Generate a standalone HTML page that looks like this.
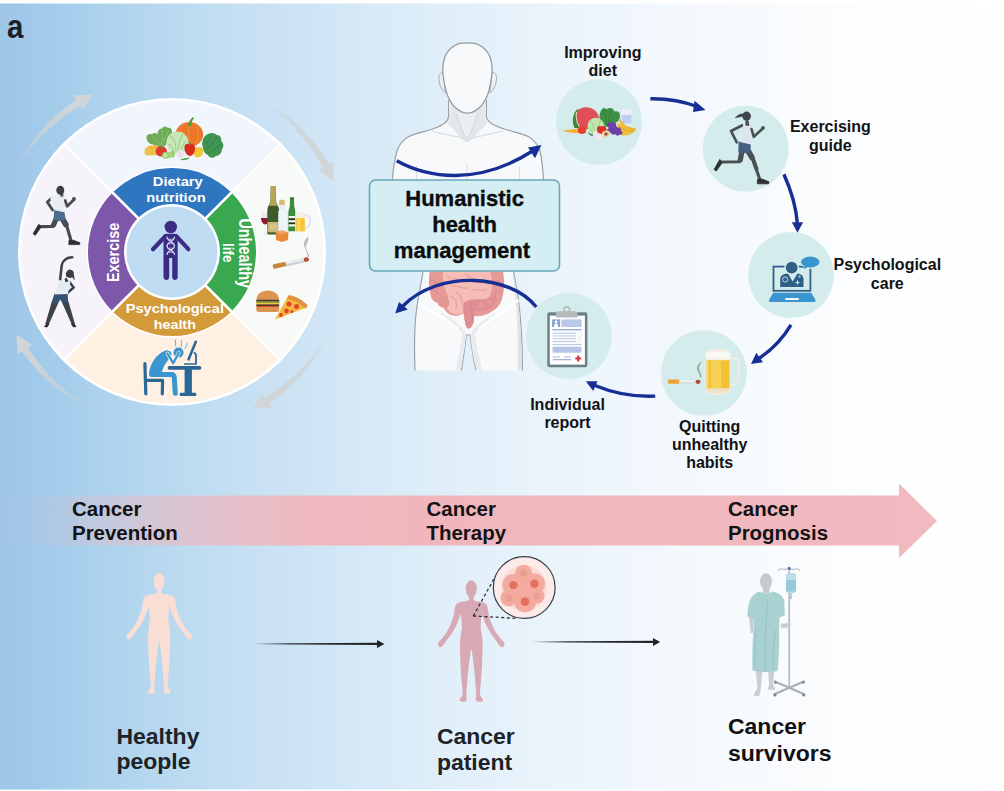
<!DOCTYPE html>
<html>
<head>
<meta charset="utf-8">
<title>Humanistic health management</title>
<style>
html,body{margin:0;padding:0;background:#fff;}
body{width:1004px;height:791px;overflow:hidden;font-family:"Liberation Sans",sans-serif;}
svg{display:block;position:absolute;left:0;top:0;}
text{font-family:"Liberation Sans",sans-serif;font-weight:bold;}
</style>
</head>
<body>
<svg width="1004" height="791" viewBox="0 0 1004 791">
<defs>
  <linearGradient id="bg" x1="0" y1="0" x2="1" y2="0">
    <stop offset="0" stop-color="#9fc5e7"/>
    <stop offset="0.05" stop-color="#a3cbea"/>
    <stop offset="0.10" stop-color="#acd2ed"/>
    <stop offset="0.18" stop-color="#bbdaf0"/>
    <stop offset="0.25" stop-color="#c7e0f3"/>
    <stop offset="0.40" stop-color="#dbecf8"/>
    <stop offset="0.55" stop-color="#ebf4fb"/>
    <stop offset="0.70" stop-color="#f5f9fd"/>
    <stop offset="0.85" stop-color="#fcfdfe"/>
    <stop offset="1" stop-color="#ffffff"/>
  </linearGradient>
  <linearGradient id="bar" gradientUnits="userSpaceOnUse" x1="0" y1="0" x2="940" y2="0">
    <stop offset="0" stop-color="#f0b6bc" stop-opacity="0"/>
    <stop offset="0.05" stop-color="#f0b6bc" stop-opacity="0.1"/>
    <stop offset="0.16" stop-color="#f0b6bc" stop-opacity="0.5"/>
    <stop offset="0.33" stop-color="#f0b6bc" stop-opacity="0.95"/>
    <stop offset="0.45" stop-color="#f0b6bc" stop-opacity="1"/>
    <stop offset="1" stop-color="#f1bac0" stop-opacity="1"/>
  </linearGradient>
  <linearGradient id="fadeL" gradientUnits="userSpaceOnUse" x1="252" y1="0" x2="384" y2="0">
    <stop offset="0" stop-color="#1e2428" stop-opacity="0"/>
    <stop offset="0.12" stop-color="#1e2428" stop-opacity="0.5"/>
    <stop offset="0.28" stop-color="#1e2428" stop-opacity="0.95"/>
    <stop offset="1" stop-color="#1e2428" stop-opacity="1"/>
  </linearGradient>
  <linearGradient id="fadeL2" gradientUnits="userSpaceOnUse" x1="531" y1="0" x2="660" y2="0">
    <stop offset="0" stop-color="#1e2428" stop-opacity="0"/>
    <stop offset="0.12" stop-color="#1e2428" stop-opacity="0.5"/>
    <stop offset="0.28" stop-color="#1e2428" stop-opacity="0.95"/>
    <stop offset="1" stop-color="#1e2428" stop-opacity="1"/>
  </linearGradient>
  <clipPath id="wheelclip"><circle cx="172" cy="252" r="151.300"/></clipPath>
</defs>

<!-- background -->
<rect x="0" y="3.5" width="1004" height="786" fill="url(#bg)"/>

<!-- panel label -->
<text transform="translate(7 38.200) scale(0.920 1.020)" x="0" y="0" font-size="32" fill="#1c2026">a</text>

<!-- ===== GRAY WHEEL ARROWS ===== -->
<g id="garrows">
  <linearGradient id="ga0" gradientUnits="userSpaceOnUse" x1="18.9" y1="164.7" x2="92.8" y2="94.5"><stop offset="0" stop-color="#ccd2d5" stop-opacity="0.05"/><stop offset="0.3" stop-color="#ccd2d5" stop-opacity="0.6"/><stop offset="0.65" stop-color="#cfd4d6" stop-opacity="0.95"/><stop offset="1" stop-color="#d2d6d7" stop-opacity="1"/></linearGradient>
  <path d="M17.8 164.0 L19.5 160.8 L21.3 157.7 L23.2 154.6 L25.1 151.5 L27.1 148.5 L29.2 145.5 L31.3 142.5 L33.5 139.6 L35.8 136.8 L38.1 133.9 L40.4 131.2 L42.9 128.4 L45.3 125.8 L47.9 123.1 L50.5 120.5 L53.1 118.0 L55.8 115.5 L58.6 113.1 L61.4 110.8 L64.2 108.5 L67.1 106.2 L70.0 104.0 L73.0 101.9 L76.1 99.8 L73.3 95.5 L92.8 94.5 L82.7 110.3 L79.9 105.9 L76.9 107.7 L73.9 109.6 L71.0 111.6 L68.1 113.6 L65.2 115.7 L62.4 117.8 L59.6 120.0 L56.9 122.2 L54.2 124.5 L51.5 126.9 L48.9 129.3 L46.4 131.8 L43.9 134.3 L41.4 136.9 L39.0 139.5 L36.7 142.2 L34.4 144.9 L32.2 147.7 L30.0 150.5 L27.9 153.4 L25.8 156.3 L23.8 159.2 L21.8 162.2 L20.0 165.3 Z" fill="url(#ga0)"/>
  <linearGradient id="ga1" gradientUnits="userSpaceOnUse" x1="262.8" y1="100.9" x2="333.4" y2="181.1"><stop offset="0" stop-color="#ccd2d5" stop-opacity="0.05"/><stop offset="0.3" stop-color="#ccd2d5" stop-opacity="0.6"/><stop offset="0.65" stop-color="#cfd4d6" stop-opacity="0.95"/><stop offset="1" stop-color="#d2d6d7" stop-opacity="1"/></linearGradient>
  <path d="M263.5 99.8 L266.8 101.7 L270.1 103.7 L273.3 105.8 L276.5 108.0 L279.7 110.2 L282.8 112.5 L285.8 114.8 L288.8 117.3 L291.8 119.7 L294.7 122.3 L297.5 124.9 L300.3 127.6 L303.1 130.3 L305.7 133.1 L308.4 136.0 L310.9 138.9 L313.4 141.9 L315.8 144.9 L318.2 148.0 L320.5 151.1 L322.7 154.3 L324.9 157.6 L327.0 160.8 L329.0 164.2 L333.5 161.7 L333.4 181.1 L318.2 170.2 L322.7 167.7 L320.9 164.4 L319.1 161.1 L317.2 157.9 L315.2 154.7 L313.1 151.6 L311.0 148.5 L308.8 145.5 L306.5 142.5 L304.2 139.5 L301.8 136.6 L299.4 133.8 L296.8 131.0 L294.3 128.2 L291.6 125.5 L288.9 122.9 L286.2 120.3 L283.3 117.8 L280.5 115.4 L277.5 113.0 L274.6 110.6 L271.5 108.4 L268.5 106.2 L265.3 104.0 L262.2 102.0 Z" fill="url(#ga1)"/>
  <linearGradient id="ga2" gradientUnits="userSpaceOnUse" x1="326.0" y1="337.7" x2="252.6" y2="408.8"><stop offset="0" stop-color="#ccd2d5" stop-opacity="0.05"/><stop offset="0.3" stop-color="#ccd2d5" stop-opacity="0.6"/><stop offset="0.65" stop-color="#cfd4d6" stop-opacity="0.95"/><stop offset="1" stop-color="#d2d6d7" stop-opacity="1"/></linearGradient>
  <path d="M327.1 338.4 L325.4 341.6 L323.6 344.7 L321.8 347.9 L319.9 351.0 L317.9 354.0 L315.9 357.1 L313.8 360.1 L311.6 363.0 L309.4 365.9 L307.1 368.8 L304.7 371.6 L302.3 374.3 L299.9 377.0 L297.3 379.7 L294.8 382.3 L292.1 384.9 L289.4 387.4 L286.7 389.8 L283.9 392.2 L281.1 394.6 L278.2 396.8 L275.3 399.1 L272.3 401.2 L269.3 403.3 L272.0 407.7 L252.6 408.8 L262.6 393.0 L265.4 397.3 L268.4 395.4 L271.3 393.5 L274.3 391.5 L277.2 389.5 L280.0 387.4 L282.8 385.2 L285.6 383.0 L288.3 380.7 L291.0 378.3 L293.7 375.9 L296.2 373.5 L298.8 371.0 L301.3 368.4 L303.7 365.8 L306.1 363.2 L308.4 360.5 L310.7 357.7 L312.9 354.9 L315.0 352.0 L317.1 349.1 L319.2 346.2 L321.2 343.2 L323.1 340.2 L324.9 337.1 Z" fill="url(#ga2)"/>
  <linearGradient id="ga3" gradientUnits="userSpaceOnUse" x1="88.7" y1="407.4" x2="16.3" y2="334.8"><stop offset="0" stop-color="#ccd2d5" stop-opacity="0.05"/><stop offset="0.3" stop-color="#ccd2d5" stop-opacity="0.6"/><stop offset="0.65" stop-color="#cfd4d6" stop-opacity="0.95"/><stop offset="1" stop-color="#d2d6d7" stop-opacity="1"/></linearGradient>
  <path d="M88.1 408.5 L84.8 406.8 L81.6 405.1 L78.5 403.3 L75.3 401.4 L72.2 399.5 L69.1 397.4 L66.1 395.4 L63.1 393.2 L60.2 391.1 L57.3 388.8 L54.4 386.5 L51.6 384.1 L48.9 381.7 L46.2 379.2 L43.5 376.6 L40.9 374.0 L38.3 371.4 L35.8 368.7 L33.4 365.9 L31.0 363.1 L28.7 360.2 L26.4 357.3 L24.2 354.4 L22.0 351.4 L17.7 354.2 L16.3 334.8 L32.3 344.5 L28.0 347.4 L29.9 350.4 L31.9 353.3 L33.9 356.3 L36.0 359.1 L38.2 362.0 L40.4 364.8 L42.7 367.5 L45.0 370.2 L47.4 372.9 L49.9 375.5 L52.3 378.0 L54.9 380.5 L57.5 383.0 L60.2 385.4 L62.9 387.7 L65.6 390.0 L68.4 392.3 L71.3 394.4 L74.2 396.6 L77.1 398.6 L80.1 400.6 L83.1 402.6 L86.2 404.4 L89.3 406.3 Z" fill="url(#ga3)"/>
</g>

<!-- ===== WHEEL ===== -->
<g id="wheel">
  <circle cx="172" cy="252" r="154" fill="#ffffff"/>
  <g clip-path="url(#wheelclip)">
    <!-- quadrants -->
    <path d="M172 252 L18 98 L326 98 Z" fill="#f0f6fc"/>
    <path d="M172 252 L326 98 L326 406 Z" fill="#f7faf6"/>
    <path d="M172 252 L326 406 L18 406 Z" fill="#fef1e3"/>
    <path d="M172 252 L18 406 L18 98 Z" fill="#f7f3fa"/>
    <path d="M18 98 L326 406 M326 98 L18 406" stroke="#ffffff" stroke-width="2.5"/>
  </g>
  <!-- ring -->
  <circle cx="172" cy="252" r="85.5" fill="#ffffff"/>
  <path d="M172 252 L112.6 192.6 A84 84 0 0 1 231.4 192.6 Z" fill="#2f76c1"/>
  <path d="M172 252 L231.4 192.6 A84 84 0 0 1 231.4 311.4 Z" fill="#3aa84f"/>
  <path d="M172 252 L231.4 311.4 A84 84 0 0 1 112.6 311.4 Z" fill="#d39a3a"/>
  <path d="M172 252 L112.6 311.4 A84 84 0 0 1 112.6 192.6 Z" fill="#7d57a9"/>
  <path d="M110 190 L234 314 M234 190 L110 314" stroke="#ffffff" stroke-width="2.6"/>
  <circle cx="172" cy="252" r="48" fill="#ffffff"/>
  <circle cx="172" cy="252" r="45.500" fill="#bfdcf3"/>
  <!-- ring labels -->
  <g fill="#fff" text-anchor="middle" font-size="13.400">
    <text x="177.800" y="185.700" textLength="50" lengthAdjust="spacingAndGlyphs">Dietary</text>
    <text x="175.900" y="202.200" textLength="59.400" lengthAdjust="spacingAndGlyphs">nutrition</text>
    <text x="174.800" y="313.200" textLength="98.300" lengthAdjust="spacingAndGlyphs">Psychological</text>
    <text x="174.800" y="329.100" textLength="42.200" lengthAdjust="spacingAndGlyphs">health</text>
  </g>
  <text transform="translate(118.900,252.400) rotate(-90) scale(1,1.090)" font-size="14.400" fill="#fff" text-anchor="middle">Exercise</text>
  <text transform="translate(239.300,253.200) rotate(90) scale(1,1.280)" font-size="14.400" fill="#fff" text-anchor="middle">Unhealthy</text>
  <text transform="translate(223,252.700) rotate(90) scale(1,1.100)" font-size="13.600" fill="#fff" text-anchor="middle">life</text>
</g>


<!-- ===== WHEEL ICONS ===== -->
<g id="veg">
  <!-- parsley -->
  <path d="M146.500 138 C146 135 149 133 152 134.500 C153 132.500 156 132.500 157.500 134.500 C157.500 131 159.500 128 162 128.500 C163 126 166.500 125.800 167.500 128 C170 127 172.500 129 172 132 C173 135 170.500 138 168.500 140 L165 146 L158 147 L153 144.500 C149.500 144.500 146.800 141.500 146.500 138 Z" fill="#6dab58"/>
  <path d="M152 137 C155 139 158 142 160 145 M162.500 130 C162.500 135 162 140 161 145 M168.500 131 C166.500 135 164 140 162 145" stroke="#8fc878" stroke-width="0.800" fill="none"/>
  <!-- pumpkin -->
  <ellipse cx="189.300" cy="134.500" rx="13.800" ry="12.400" fill="#ec7726"/>
  <path d="M184 123 C180 130 180 140 184 146 M189.500 122.500 C188 130 188 140 189.500 146.800 M195 123 C199 130 199 140 195 146" stroke="#f0904a" stroke-width="1" fill="none"/>
  <path d="M188 126 C188.500 122 190.500 119 192.800 117 L194 118.200 C192 120.500 191 123 191 126.300 Z" fill="#4f9a3c"/>
  <!-- lettuce right -->
  <path d="M203 148 C201 142 203 136 208 134 C211 132 215 133 217 135 C220 135 222 138 221 141 C224 143 224 147 222 149 C222 153 219 156 216 156 C213 159 209 158 208 155 C205 154 203 151 203 148 Z" fill="#3f9652"/>
  <path d="M206 150 C210 146 214 141 217 137 M208 154 C212 151 217 147 221 144 M205 145 C208 142 210 138 211 135" stroke="#2f7d42" stroke-width="0.800" fill="none"/>
  <!-- corn/yellow -->
  <path d="M144.500 151 C145 148 147 146 150 146.500 L159 148 L160 155 L147 155.500 C145 155 144 153 144.500 151 Z" fill="#f0c04e"/>
  <path d="M148 146 L158 145 L158.500 148.500 L149 149 Z" fill="#f4b23c"/>
  <!-- cabbage -->
  <circle cx="177.300" cy="142.500" r="11" fill="#c9e8b8"/>
  <path d="M170 136 C174 138 176 143 176 151 M183 134 C180 139 178 145 178 152 M168 144 C171 145 173 148 174 152 M186 141 C183 144 181 148 180.500 152" stroke="#9fd08c" stroke-width="1.100" fill="none"/>
  <!-- tomato -->
  <ellipse cx="161.300" cy="151.200" rx="5.700" ry="5.200" fill="#e03a2a"/>
  <path d="M158.500 146.500 L161.300 147.800 L164 146.300 L162.500 148.500 L160 148.500 Z" fill="#4a9a3c"/>
  <!-- yellow pepper -->
  <path d="M193 150 C193 147 196 146 198 147.500 C200 146 203 147.500 203 150.500 C203.500 154 201 157.500 198 157.500 C195 157.500 192.500 154 193 150 Z" fill="#f3c538"/>
  <!-- red pepper -->
  <path d="M184.500 147 C184.500 144 187.500 143 189.500 144.500 C191.500 143 195 144.500 195 147.500 C195.500 151.500 193 156 190 156 C187 156 184 151.500 184.500 147 Z" fill="#d72b22"/>
  <path d="M189 144.500 L189.800 142 L191 142.300 L190.300 144.700 Z" fill="#4a9a3c"/>
  <!-- cucumbers -->
  <ellipse cx="172.500" cy="154.300" rx="2.400" ry="3.300" fill="#9ccf74"/>
  <ellipse cx="169.200" cy="154.800" rx="2.600" ry="3.400" fill="#a9d883"/>
  <ellipse cx="165.400" cy="155.300" rx="3.200" ry="3.500" fill="#8cc862"/>
  <ellipse cx="165.400" cy="155.300" rx="2.200" ry="2.500" fill="#c4e8a0"/>
  <!-- garlic -->
  <path d="M180.500 148.500 C182.500 151 185 152.500 184.500 155.500 C184 158 177 158.500 176.500 155.500 C176 152.500 179 151 180.500 148.500 Z" fill="#f0e4f0"/>
  <path d="M180.500 150 C180 153 180 155 180.500 157.500" stroke="#d9c6df" stroke-width="0.700" fill="none"/>
  <!-- pea pod -->
  <path d="M180 159.500 C183 158 187 158 190 157.500 C188 160 183 161 180 159.500 Z" fill="#5aa546"/>
</g>

<g id="drinks">
  <!-- wine glass -->
  <path d="M261.300 212.200 L268.800 212.200 C269.500 218 268.500 223 265.600 224.300 L265.600 233 L268.300 234 L268.300 234.800 L262 234.800 L262 234 L264.700 233 L264.700 224.300 C261.500 223 260.500 218 261.300 212.200 Z" fill="#e7ebf0" opacity="0.950"/>
  <path d="M261 218 L269.100 218 C269 221.500 267.800 223.800 265.200 224.500 C262.500 223.800 261.100 221.500 261 218 Z" fill="#8d1a30"/>
  <!-- champagne -->
  <path d="M270.700 186 L275.500 186 L275.800 200 C276 204 279.300 206.500 279.300 211 L279.300 233 C279.300 234 278.600 234.600 277.500 234.600 L269 234.600 C268 234.600 267.300 234 267.300 233 L267.300 211 C267.300 206.500 270.300 204 270.500 200 Z" fill="#3d5c2a"/>
  <path d="M270.800 186 L275.400 186 L275.700 200 C275.800 202.500 277 204.300 278 205.800 L268.600 205.800 C269.600 204.300 270.500 202.500 270.600 200 Z" fill="#b9a55a"/>
  <rect x="267.800" y="222" width="11" height="10.300" fill="#c9b878"/>
  <rect x="269.800" y="224.500" width="7" height="4.600" fill="#dcc48a"/>
  <!-- clear bottle -->
  <rect x="279.200" y="199.800" width="5.600" height="5.600" rx="1.500" fill="#d9ba6c"/>
  <path d="M280.400 205 L283.800 205 L283.800 209 C286.300 210 287.600 211.500 287.600 213.500 L287.600 231 L278.500 231 L278.500 213.500 C278.500 211.500 278.500 210 280.400 209 Z" fill="#eef3f6" stroke="#dbe3e8" stroke-width="0.600"/>
  <!-- whiskey glass -->
  <path d="M275.500 232.500 L282 230.500 L288.500 232.500 L288 240 L282 242 L276 240 Z" fill="#e9893a"/>
  <path d="M275.500 232.500 L282 234.500 L288.500 232.500 L282 230.500 Z" fill="#f2a25a"/>
  <!-- green beer bottle -->
  <path d="M290 197.600 L294 197.600 L294.200 205 C294.300 208 295.400 210 295.400 213 L295.400 231.300 L288.300 231.300 L288.300 213 C288.300 210 289.700 208 289.800 205 Z" fill="#3a8d3a"/>
  <rect x="288.600" y="216" width="6.500" height="10.500" fill="#f2f4ee"/>
  <rect x="288.600" y="218.300" width="6.500" height="1.800" fill="#20301f"/>
  <rect x="288.600" y="222.400" width="6.500" height="1.800" fill="#20301f"/>
  <rect x="290" y="197.600" width="4" height="1.600" fill="#2c6e2c"/>
  <!-- beer mug -->
  <path d="M304.800 215.500 C309.500 215 310.500 218 310 222 C309.500 226 308 228.500 304.800 228.500" fill="none" stroke="#e4deee" stroke-width="1.800"/>
  <rect x="295.500" y="212.600" width="9.800" height="19.300" rx="1" fill="#f3f0ea"/>
  <rect x="296" y="218" width="8.800" height="13.200" fill="#f5c73a"/>
  <rect x="297.500" y="218" width="2.500" height="13.200" fill="#f9d966"/>
</g>

<g id="cig">
  <path d="M309 257 C309.500 253 305 250 306 246 C307 242 309.500 240 308 236.500 C306 239 303.500 241 304 245 C304.500 249 307.500 252 307.500 256.500 Z" fill="#b8bdbb"/>
  <g transform="rotate(-12.200 273 266.700)">
    <rect x="273" y="264.500" width="13.300" height="4.500" rx="1" fill="#c9853c"/>
    <rect x="286.300" y="264.500" width="18.500" height="4.500" fill="#e9ecee"/>
    <rect x="286.300" y="267.200" width="18.500" height="1.800" fill="#c9cdd2"/>
    <rect x="304.500" y="264.500" width="5.200" height="4.500" rx="2" fill="#b5563c"/>
  </g>
</g>

<g id="burger">
  <path d="M256.500 299.800 C256.500 294 261.500 290.500 267.700 290.500 C274 290.500 279 294 279 299.800 Z" fill="#dd9450"/>
  <rect x="256.300" y="299.600" width="22.900" height="2.200" fill="#5b3a24"/>
  <rect x="256" y="301.600" width="23.500" height="1.500" fill="#7daa3c"/>
  <rect x="256.300" y="302.900" width="22.900" height="1.600" fill="#f2c23c"/>
  <rect x="256.300" y="304.300" width="22.900" height="1.900" fill="#5b3a24"/>
  <rect x="256.600" y="306" width="22.300" height="1.200" fill="#d8452c"/>
  <path d="M256.300 307 L279.200 307 L279.200 309.500 C279.200 311.200 278 312 276.500 312 L259 312 C257.500 312 256.300 311.200 256.300 309.500 Z" fill="#dd9450"/>
</g>
<g id="pizza">
  <path d="M275 319.500 L287.500 297.200 L306.500 307.600 Z" fill="#f6b93c"/>
  <path d="M286.800 298.400 L288.800 295 C295 296 303 300 307.800 305.500 L305.800 308.800 C301 304 293.500 300 286.800 298.400 Z" fill="#e0923f"/>
  <circle cx="289" cy="304" r="2.500" fill="#e0452f"/>
  <circle cx="296.500" cy="306.500" r="2.500" fill="#e0452f"/>
  <circle cx="286.500" cy="311" r="2.400" fill="#e0452f"/>
  <circle cx="281" cy="315" r="2" fill="#e0452f"/>
  <circle cx="292" cy="311.500" r="1.500" fill="#e0452f"/>
</g>

<g id="stress">
  <!-- chair -->
  <path d="M144.900 363.500 L145.800 393.800" stroke="#2b6796" stroke-width="3.200" stroke-linecap="round" fill="none"/>
  <path d="M145.600 380.300 L162.600 380.300 L162.300 393.800" stroke="#2b6796" stroke-width="3.200" stroke-linecap="round" stroke-linejoin="round" fill="none"/>
  <!-- desk -->
  <path d="M169.500 367.800 L199.500 367.800" stroke="#2b6796" stroke-width="3.700" stroke-linecap="round"/>
  <rect x="184.600" y="368" width="7.300" height="25.500" fill="#2b6796"/>
  <rect x="179.700" y="392.800" width="16.600" height="3.200" rx="1.200" fill="#2b6796"/>
  <!-- monitor -->
  <path d="M195.800 341.800 L188.600 359.300" stroke="#2b6796" stroke-width="2.600" stroke-linecap="round"/>
  <path d="M193.800 352.500 C195.500 353 196 354 196 356 L196 363.800" stroke="#2b6796" stroke-width="1.800" fill="none"/>
  <path d="M184 364 L196.800 364" stroke="#2b6796" stroke-width="1.500"/>
  <!-- person -->
  <path d="M171 374.600 L151.500 374.600 C152 366 157 356.500 166.500 352.800" stroke="#3a96d0" stroke-width="5" fill="none" stroke-linecap="round" stroke-linejoin="round"/>
  <path d="M152 377 C150 368 154 356 166 351 C170 350 172 352 171.500 355 L164 366 L160 377 Z" fill="#3a96d0"/>
  <path d="M155 374.500 L171.500 374.500 C173.500 374.500 174.200 376 174.300 378 L175.300 393.300" stroke="#3a96d0" stroke-width="5" fill="none" stroke-linecap="round" stroke-linejoin="round"/>
  <circle cx="178.500" cy="352.600" r="5" fill="#3a96d0"/>
  <path d="M167.500 353.500 L173.200 363.200 L178.800 352.800" stroke="#fdf0e2" stroke-width="3.600" fill="none" stroke-linecap="round" stroke-linejoin="round"/>
  <path d="M167.500 353.500 L173.200 363.200 L178.800 352.800" stroke="#3a96d0" stroke-width="2.300" fill="none" stroke-linecap="round" stroke-linejoin="round"/>
  <!-- squiggles -->
  <path d="M175.500 340 C174.500 341.500 176.500 342.500 175.500 344 C175 345 176 345.500 175.800 346.200 M181.500 340.500 C180.500 342 182.500 343 181.500 344.500 C181 345.500 181.500 346 181.200 346.800 M187.500 343 C186 344.200 187.500 345.500 186 346.800 C185.300 347.500 185.500 348 185 348.500" stroke="#4aa0d5" stroke-width="0.900" fill="none" stroke-linecap="round"/>
</g>

<g id="runnerman">
  <!-- back leg -->
  <path d="M57 217 L52.500 226.500 L39.500 226.600" stroke="#464b50" stroke-width="3.200" fill="none" stroke-linecap="round" stroke-linejoin="round"/>
  <path d="M57.500 216 L53.500 225" stroke="#464b50" stroke-width="5.200" fill="none" stroke-linecap="round"/>
  <path d="M38.800 224.300 L40.800 227.300 L35.200 235.300 L33.200 233.800 Z" fill="#2b2e33" stroke="#2b2e33" stroke-width="1" stroke-linejoin="round"/>
  <!-- front leg -->
  <path d="M61.500 217 L66.700 225.600 L71 240.600" stroke="#464b50" stroke-width="3.200" fill="none" stroke-linecap="round" stroke-linejoin="round"/>
  <path d="M61 216.500 L65.800 224.500" stroke="#464b50" stroke-width="5.600" fill="none" stroke-linecap="round"/>
  <path d="M69 240.500 L73.500 240.300 L80 242.800 L79.500 244.600 L68.800 244.600 Z" fill="#2b2e33" stroke="#2b2e33" stroke-width="0.800" stroke-linejoin="round"/>
  <!-- back arm -->
  <path d="M51.500 198.200 L47.300 202 L52.600 210" stroke="#464b50" stroke-width="2.800" fill="none" stroke-linecap="round" stroke-linejoin="round"/>
  <!-- shorts -->
  <path d="M54.300 209.500 L64.300 211.500 L65.600 219 C62 221.500 57 221.500 53.500 219.300 Z" fill="#4d6d8c"/>
  <!-- shirt -->
  <path d="M50.300 197.500 C52 195.500 56 195 58.500 195.800 L62.500 196 C64.500 196 66.300 197 66.300 199 L64.300 212.300 L54.600 210.200 L53.800 201.800 L50.500 200.300 Z" fill="#e9eef4"/>
  <!-- front arm -->
  <path d="M65.200 200.500 L67.200 206.300 L73.800 199.800" stroke="#464b50" stroke-width="2.700" fill="none" stroke-linecap="round" stroke-linejoin="round"/>
  <circle cx="74" cy="199" r="1.900" fill="#464b50"/>
  <!-- head -->
  <path d="M60.500 196.800 L60.300 192 L63.300 192.500 L63.300 196.500 Z" fill="#464b50"/>
  <ellipse cx="60.300" cy="190.300" rx="4" ry="4.500" fill="#3c4146"/>
</g>

<g id="stretchwoman">
  <!-- legs -->
  <path d="M52 301 L58.500 302.500 L48.500 325 L45.300 324 Z" fill="#3d444b"/>
  <path d="M62 302.500 L68.300 301 L75 324 L72 325 Z" fill="#3d444b"/>
  <path d="M47.500 323 L44.500 326.500 L47 327 L49 324 Z M73 323 L76 326.500 L73.500 327 L71.500 324 Z" fill="#2b2e33" stroke="#2b2e33" stroke-width="1" stroke-linejoin="round"/>
  <!-- shorts -->
  <path d="M54.500 293.500 L67.500 293 L68.200 302.500 L62.500 303.300 L60.300 299.500 L57.500 304 L51.500 302.800 Z" fill="#35536f"/>
  <!-- raised arm -->
  <path d="M60 280.500 L61.800 265 C62.500 260.500 67 257.300 72.200 257.300" stroke="#3d444b" stroke-width="2.600" fill="none" stroke-linecap="round"/>
  <!-- other arm -->
  <path d="M69.500 282 L73.700 287.500 L67 293.200" stroke="#3d444b" stroke-width="2.500" fill="none" stroke-linecap="round" stroke-linejoin="round"/>
  <!-- tank -->
  <path d="M59 279.500 L62 281 C64 282 67 281.500 68.500 280 L70.500 281.500 L67.800 294 L54.600 294.500 Z" fill="#e5ebf2"/>
  <!-- head -->
  <path d="M66.500 277.500 L68.500 281.500 L65.500 282.300 L64.500 279 Z" fill="#3d444b"/>
  <ellipse cx="69.800" cy="273.800" rx="3.800" ry="4.100" fill="#363c42" transform="rotate(25 69.800 273.800)"/>
  <path d="M71.500 271 C74 273 74.500 277 74.600 280.300 C73 278.500 72 276.500 70.500 275.500 Z" fill="#363c42"/>
</g>

<g id="dnaperson">
  <circle cx="170.800" cy="227" r="6.200" fill="#3d2c86"/>
  <path d="M165.300 236.200 L153 249.200 M176.300 236.200 L188.300 249.200" stroke="#3d2c86" stroke-width="4.200" stroke-linecap="round"/>
  <path d="M163.500 236.500 C163.500 234.800 164.800 233.800 166.300 233.800 L175 233.800 C176.500 233.800 177.700 234.800 177.700 236.500 L177.700 277 C177.700 281 172.200 281 172.200 277 L172.200 258 L169.200 258 L169.200 277 C169.200 281 163.500 281 163.500 277 Z" fill="#3d2c86"/>
  <path d="M167 237 C167 241.500 174.500 241.500 174.500 246 C174.500 250.500 167 250 167 254.500 M174.500 237 C174.500 241.500 167 241.500 167 246 C167 250.500 174.500 250 174.500 254.500" stroke="#dfe4f3" stroke-width="1.100" fill="none" stroke-linecap="round"/>
  <path d="M168.300 239.200 L173.200 239.200 M168.500 243.800 L173 243.800 M168.500 248.200 L173 248.200 M168.300 252.300 L173.200 252.300" stroke="#dfe4f3" stroke-width="0.700"/>
</g>

<!-- ===== TORSO ===== -->
<g id="torso">
  <!-- body -->
  <path d="M448.5 100 L448.7 116 C448.5 121 445 124.5 432.6 129 C422 132.5 414 133.5 408 137 C402 140.5 399 145 397 151 C394.5 160 393 170 392.3 181 L392.3 200 L423 272 C421 285 418 297 416.5 310 C414.5 325 414 345 415 370.4 L461.4 370.4 C463 358 465.5 345 466.2 335 L470.2 335 C471 345 473.5 358 476 370.4 L522.4 370.4 C522.5 350 521.5 325 518.5 300 C517 290 515 281 513.6 272 L543.6 200 L543.6 181 C543 170 542 160 540 151 C538 145 535 140.5 529 137 C523 133.5 515 132.5 504 129 C491 124.5 486.5 121 486.3 116 L486.5 100 Z" fill="#f7f9fb"/>
  <path d="M448.5 100 L448.7 116 C448.5 121 445 124.5 432.6 129 C422 132.5 414 133.5 408 137 C402 140.5 399 145 397 151 C394.5 160 393 170 392.3 181 M423 272 C421 285 418 297 416.5 310 C414.5 325 414 345 415 370.4 M461.4 370.4 C463 358 465.5 345 466.2 335 L470.2 335 C471 345 473.5 358 476 370.4 M522.4 370.4 C522.5 350 521.5 325 518.5 300 C517 290 515 281 513.6 272 M543.6 181 C543 170 542 160 540 151 C538 145 535 140.5 529 137 C523 133.5 515 132.5 504 129 C491 124.5 486.5 121 486.3 116 L486.5 100" fill="none" stroke="#9aa1a7" stroke-width="1.200" stroke-linejoin="round"/>
  <!-- neck shadow -->
  <path d="M450.4 101 L484.6 101 L484.6 116 C484.8 119 486 121 488 122.5 L472 139 L467 141 L462 139 L447 122.5 C449 121 450.2 119 450.4 116 Z" fill="#e3e7ea"/>
  <path d="M456 113 L463.5 134 L467 138 L470.5 134 L478 113" fill="#eceff2" stroke="#cfd4d8" stroke-width="0.9"/>
  <!-- collar bones -->
  <path d="M432 131 C442 134 455 136 462.5 138 L467 141.5 L471.5 138 C480 136 492 134 503 131" fill="none" stroke="#d5dade" stroke-width="1.2"/>
  <!-- inner arm lines & sternum -->
  <path d="M416.6 166 L416.4 181 M519.4 166 L519.6 181 M467 163 L467 181" stroke="#d9dde1" stroke-width="1" fill="none"/>
  <!-- ears -->
  <path d="M443.5 73 C440.5 72 438.6 74.5 438.9 79 C439.2 84.5 441.5 90 445.5 93 Z" fill="#eef1f3" stroke="#a7adb3" stroke-width="1"/>
  <path d="M491.9 73 C494.9 72 496.8 74.5 496.5 79 C496.2 84.5 493.9 90 489.9 93 Z" fill="#eef1f3" stroke="#a7adb3" stroke-width="1"/>
  <!-- head -->
  <path d="M467.3 42.9 C463.3 42.9 458.7 43.3 455.2 45.2 C451.7 47.1 448.2 50.5 446.1 54.3 C444.0 58.1 443.1 63.1 442.8 67.9 C442.5 72.7 443.4 78.3 444.3 83.1 C445.2 87.9 446.3 92.7 448.1 96.8 C449.9 100.8 452.0 104.7 455.2 107.4 C458.4 110.1 463.3 113.2 467.3 113.2 C471.4 113.2 476.4 110.1 479.6 107.4 C482.9 104.7 484.9 100.8 486.8 96.8 C488.6 92.7 489.7 87.9 490.6 83.1 C491.4 78.3 492.4 72.7 492.1 67.9 C491.8 63.1 490.8 58.1 488.7 54.3 C486.7 50.5 483.2 47.1 479.6 45.2 C476.1 43.3 471.4 42.9 467.3 42.9 Z" fill="#f7f9fb" stroke="#949ca2" stroke-width="1.300"/>
  <!-- lower body shading -->
  <path d="M466 336 C465 348 462.5 360 461 370 L455.5 370 C458 358 461 345 462.5 334 C458 327 448 318 438 312 C450 316 460 324 466 333 Z" fill="#e8ecef"/>
  <path d="M470.4 336 C471.4 348 473.9 360 476.4 370 L481.9 370 C479.4 358 476.4 345 474.9 334 C479.4 327 489.4 318 499.4 312 C487.4 316 477.4 324 470.4 333 Z" fill="#e8ecef"/>
  <path d="M513 276 C515 290 517 310 517.5 330 C518 345 518 358 517.6 370 L521.8 370 C522 350 521 325 518 300 C516.8 290 515 282 513.6 274 Z" fill="#dfe3e6"/>
  <path d="M418 304 C430 310 445 318 458 329 M519 300 C507 308 492 318 479 329" stroke="#ffffff" stroke-width="2.5" fill="none" opacity="0.9"/>
  <!-- intestines -->
  <g id="gut">
    <path d="M429.5 271.5 L503 271.5 C504.5 280 504.5 290 502.5 297 C501 304 497 309 491 312 C485 316 478 317 474 316 L473.5 322 C472.5 326 470.5 328.5 468.8 328.5 C467 328.500 465.500 326 464.800 321 L463.500 313 C458 317.500 450 316.500 446 311.500 C443.500 308.500 442.500 305 443 302.500 C438 304 433.500 302.500 431.500 298 C429 291 428.500 281 429.500 271.500 Z" fill="#e69a97"/>
    <path d="M443 271.5 L490 271.5 C493 279 493 290 489 297 C484 301 474 300 468 302 C464 304 463 309 463 313 C457 316 450 314 447.500 309 C445.500 305 446 300 448.500 296 C444 290 442.500 280 443 271.500 Z" fill="#f6bdb6"/>
    <path d="M447 276 C452 280 458 278 462 282 M452 286 C458 285 462 290 468 288 M466 274 C470 279 476 277 480 282 M472 290 C477 288 482 292 486 289 M450 296 C455 298 458 303 456 309 M456 292 C461 296 463 300 462 305 M478 282 C483 284 486 281 489 284" stroke="#eba39d" stroke-width="1.3" fill="none" stroke-linecap="round"/>
    <path d="M431 281 C434 280 436 282 436 285 M431 290 C434.500 289 437 291 437 294 M500 280 C497 280 495.500 282 495.500 285 M501 290 C497.500 289.500 495.500 291.500 495.500 294.500 M497 300 C494 299 491.500 300.500 491 303.500 M488 306 C486 304 483 304.500 482 307.500" stroke="#d98a8b" stroke-width="1.1" fill="none" stroke-linecap="round"/>
    <path d="M440 297 C444 295 449 298 449.500 303 C449 307 445 309 441 307 C437 305.500 436.500 299.500 440 297 Z" fill="#e39594"/>
    <path d="M463.500 303.500 C466 299.500 474 299 482 299.500 C488 300 492 298 495 295 L497 300 C495 306 489 310 482 311 C478 311.500 475.500 311 474.500 311.500 L473.500 322 C472.500 326 470.500 328.500 468.800 328.500 C467 328.500 465.500 326 464.800 321 C464 315 462.500 308 463.500 303.500 Z" fill="#de8f94"/>
    <path d="M470 303 C472.500 309 472.500 316 472 322" stroke="#cf7f86" stroke-width="0.9" fill="none"/>
    <circle cx="481" cy="305.500" r="4.300" fill="#e3979a" stroke="#d38489" stroke-width="0.600"/>
    <circle cx="489.500" cy="302.500" r="3.800" fill="#e3979a" stroke="#d38489" stroke-width="0.600"/>
  </g>
</g>

<!--ARROW6-->
<!-- ===== BOX ===== -->
<g id="box">
  <rect x="369.500" y="180" width="190" height="91" rx="6" ry="6" fill="#d4eef4" stroke="#6aa7b7" stroke-width="1.600"/>
  <g font-size="22" fill="#0d0d0f" text-anchor="middle" stroke="#0d0d0f" stroke-width="0.350">
  <text x="464.600" y="206">Humanistic</text>
  <text x="464.600" y="232">health</text>
  <text x="462" y="257.500" textLength="136.500" lengthAdjust="spacingAndGlyphs">management</text>
  </g>
</g>

<!-- ===== SMALL CIRCLES ===== -->
<g id="circles" fill="#d4edec">
  <circle cx="599" cy="122" r="43"/>
  <circle cx="745.7" cy="148.7" r="43"/>
  <circle cx="791" cy="275" r="43"/>
  <circle cx="704" cy="373" r="43"/>
  <circle cx="569" cy="336" r="43"/>
</g>


<!-- ===== SMALL CIRCLE ICONS ===== -->
<g id="fruits">
  <!-- watermelon -->
  <path d="M574.500 128 C571.500 122 572.500 113 578 108.500 L583 128.500 Z" fill="#3b8a3c"/>
  <path d="M576.500 112 C580 106.500 589 105.500 595 110.500 C599 114 600 119 598.500 124 L588 129 L581 128.500 C577 124.500 575.500 117.500 576.500 112 Z" fill="#df4f58"/>
  <path d="M576.500 112 C575.500 117.500 577 124.500 581 128.500" stroke="#f4e6c8" stroke-width="1" fill="none"/>
  <!-- greens -->
  <path d="M600 121 C598.500 115 600.500 109.500 604 107.500 C606 109.500 607 109 609 108 C612 107.500 614 109.500 614.500 111.500 C617.500 110.500 620.500 112.500 619.800 115.500 C620.500 118.500 618.500 121.500 616 122.500 L606 127 Z" fill="#3f9046"/>
  <path d="M604 110 C605 115 606 120 607 125 M611 110 C610 115 609 120 608.500 124 M617 115 C614 118 611 121 609 124" stroke="#2f7a38" stroke-width="0.800" fill="none"/>
  <!-- bottles -->
  <path d="M621 112 C621 109 623 108.300 625 108.500 L625.800 110.500 L627 108.600 C629.500 108.300 631.800 109.500 631.800 112 L631.800 124.500 L621 124.500 Z" fill="#e9eff8"/>
  <rect x="621.500" y="115" width="10" height="8.500" fill="#bcd0ee"/>
  <!-- bananas -->
  <path d="M616.500 123 C622 125 630 128 636.200 128 C636 131 633 133.500 628 135 C624 136 620 135.500 617.500 134 C619 131 618 126 616.500 123 Z" fill="#f1bb3c"/>
  <path d="M619.500 118.500 C621 123 626 127.500 633 129 M618 126 C622 129 628 131.500 634 131.500" stroke="#dba22c" stroke-width="0.900" fill="none"/>
  <path d="M619 118 C621 121 624 124.500 628 126.500 L622 127 C620 124.500 619 121 619 118 Z" fill="#f1bb3c"/>
  <!-- carrot -->
  <path d="M562.500 131 C569 128.800 577 128.800 583 129.800 L583 132.800 C577 133.500 569 133 562.500 131 Z" fill="#f2b233"/>
  <!-- cabbage -->
  <circle cx="595.800" cy="126" r="8.300" fill="#c2e5ac"/>
  <path d="M590 120 C593 123 594.500 128 594.500 134 M601 120 C598.500 124 597.500 129 597.500 134 M588.500 127 C591 128.500 592.500 131 593 134" stroke="#9ad084" stroke-width="1" fill="none"/>
  <path d="M588 131.500 C590 134 593 135 596 134.300 L592 136 C590 135.500 588.500 134 588 131.500 Z" fill="#3f9046"/>
  <!-- tomato -->
  <ellipse cx="582" cy="130" rx="4.300" ry="3.900" fill="#e8442b"/>
  <!-- red pepper -->
  <path d="M597 128.500 C597 126 599.500 125.300 601.500 126.500 C603.500 125.300 606.500 126.300 606.500 129 C606.500 132 604.500 134.500 601.800 134.500 C599 134.500 597 131.500 597 128.500 Z" fill="#d9302a"/>
  <!-- grapes -->
  <g fill="#6b41a3">
    <circle cx="609.500" cy="125" r="2.600"/><circle cx="613.500" cy="124.500" r="2.600"/><circle cx="611" cy="128.500" r="2.600"/>
    <circle cx="615" cy="128.300" r="2.600"/><circle cx="618.500" cy="130" r="2.600"/><circle cx="613.500" cy="132" r="2.600"/>
    <circle cx="617.500" cy="133.300" r="2.400"/><circle cx="620.500" cy="132.800" r="2"/><circle cx="609" cy="131" r="2.200"/>
  </g>
  <!-- garlic & avocado -->
  <ellipse cx="598.500" cy="136.500" rx="3.800" ry="3.200" fill="#f1e6f2"/>
  <ellipse cx="595" cy="133.500" rx="2.300" ry="2.500" fill="#f1e6f2"/>
  <ellipse cx="606" cy="134" rx="4.200" ry="3.300" fill="#ecd9a8" transform="rotate(-15 606 134)"/>
  <circle cx="606" cy="134" r="1.700" fill="#9a4a2a"/>
</g>

<g id="runnerwoman">
  <path d="M742 149 L739.300 161.800 L721.500 162" stroke="#4a5155" stroke-width="3.100" fill="none" stroke-linecap="round" stroke-linejoin="round"/>
  <path d="M742.300 149 L740.300 160" stroke="#4a5155" stroke-width="5.200" fill="none" stroke-linecap="round"/>
  <path d="M719.800 159.500 L722 162.800 L716.300 171 L714.200 169.500 Z" fill="#2d3136" stroke="#2d3136" stroke-width="1" stroke-linejoin="round"/>
  <path d="M747.500 149 L752.800 158.500 L759.500 178.800" stroke="#4a5155" stroke-width="3.100" fill="none" stroke-linecap="round" stroke-linejoin="round"/>
  <path d="M747 149 L752 157.500" stroke="#4a5155" stroke-width="5.600" fill="none" stroke-linecap="round"/>
  <path d="M753.300 160 L756.500 169" stroke="#4a5155" stroke-width="4" fill="none" stroke-linecap="round"/>
  <path d="M757.500 179.200 L762 179 L769 181.800 L768.500 183.800 L757.300 183.800 Z" fill="#2d3136" stroke="#2d3136" stroke-width="0.800" stroke-linejoin="round"/>
  <path d="M742.500 125.300 L731 131 L736.800 142.300" stroke="#4a5155" stroke-width="2.700" fill="none" stroke-linecap="round" stroke-linejoin="round"/>
  <path d="M738.600 141.500 L750.800 143.800 L750.500 151.500 C747 153.800 742 153.800 738.300 152.300 Z" fill="#45607f"/>
  <path d="M743 124 C745 126 748.500 126.500 751 125 L752.800 128 L750.800 144.500 L740 142 C742 136 743.500 130 743 124 Z" fill="#dfe5ef"/>
  <path d="M751.500 129 L753.800 136.800 L762.500 128.800" stroke="#4a5155" stroke-width="2.600" fill="none" stroke-linecap="round" stroke-linejoin="round"/>
  <circle cx="763" cy="127.800" r="1.900" fill="#4a5155"/>
  <path d="M745.500 120.500 L745.300 125.500 L749.300 126 L748.800 121 Z" fill="#4a5155"/>
  <ellipse cx="746.600" cy="116.300" rx="4.300" ry="4.700" fill="#40464b"/>
  <path d="M743.500 113.500 C740.500 113 737.500 115 734.500 118.300 C738 117.800 741 117 743.500 116 Z" fill="#40464b"/>
</g>

<g id="laptop">
  <rect x="773.500" y="266.600" width="36.900" height="24.200" fill="none" stroke="#2f5f86" stroke-width="1.800"/>
  <circle cx="791.700" cy="267.600" r="7.400" fill="#d4edec"/>
  <ellipse cx="810.300" cy="262" rx="10.600" ry="6.700" fill="#d4edec"/>
  <path d="M773.200 292.800 L811.200 292.800 L815.400 299.800 C816 301 815.300 302 814 302 L770.500 302 C769.200 302 768.500 301 769.200 299.800 Z" fill="#3a94d0"/>
  <rect x="785.200" y="298" width="13.700" height="2.100" rx="0.500" fill="#eaf6fb"/>
  <path d="M780.200 287 L780.200 279.500 C780.200 276 783 273.700 786.500 273.700 L788.200 273.700 L792.600 281.500 L797.300 273.700 L798 273.700 C801.500 273.700 803.500 276 803.500 279.500 L803.500 287 Z" fill="#2f5f86"/>
  <circle cx="791.700" cy="267.600" r="5.900" fill="#2f5f86"/>
  <circle cx="785.200" cy="279.500" r="2.600" fill="none" stroke="#cfe6f0" stroke-width="0.900"/>
  <path d="M797.500 280.500 L797.500 284.500 M795.500 282.500 L799.500 282.500" stroke="#e6f3f8" stroke-width="1.100"/>
  <circle cx="799.500" cy="276.500" r="1.200" fill="#9cc3dc"/>
  <path d="M799.300 266.500 L803.200 266.800" stroke="#2f5f86" stroke-width="1.200"/>
  <ellipse cx="810.300" cy="262" rx="9.300" ry="5.400" fill="#3a94d0"/>
  <path d="M804.500 265 L804 269.300 L808.500 266.500 Z" fill="#3a94d0"/>
</g>

<g id="beercig">
  <!-- handle -->
  <path d="M729.500 358.500 C737 357 739.500 360 739.300 368 C739.100 378 737.500 385 729.500 385.500" fill="none" stroke="#e6e6e0" stroke-width="2.800"/>
  <path d="M729.500 358.500 C737 357 739.500 360 739.300 368 C739.100 378 737.500 385 729.500 385.500" fill="none" stroke="#f7f6f2" stroke-width="1"/>
  <!-- mug -->
  <path d="M705.800 352 C705.800 350 710 349.200 718 349.200 C726 349.200 730.300 350 730.300 352 L730.300 391 C730.300 393.500 725 394.300 718 394.300 C711 394.300 705.800 393.500 705.800 391 Z" fill="#f4f0e6"/>
  <rect x="706.600" y="360.200" width="23" height="28.300" fill="#f3c233"/>
  <rect x="711" y="360.200" width="10" height="28.300" fill="#f7d056"/>
  <rect x="706.600" y="360.200" width="2" height="28.300" fill="#f7d56a"/>
  <path d="M706.600 388.500 L729.600 388.500 L729.600 390.500 C729.600 392.500 725 393.300 718 393.300 C711 393.300 706.600 392.500 706.600 390.500 Z" fill="#efe2c6"/>
  <path d="M706.500 353 C712 351.500 724 351.500 729.800 353 L729.800 358.500 C724 357 712 357 706.500 358.500 Z" fill="#faf8f3"/>
  <!-- smoke -->
  <path d="M701.200 377.500 C702.300 373 698.300 371 699.300 367 C700 364.500 701.500 363.500 701.600 361.500 C699 363 696.500 365.500 697 369 C697.500 372.500 700.300 374 699.800 377.500 Z" fill="#9fadab"/>
  <!-- cigarette -->
  <rect x="668" y="379.600" width="11.500" height="4.100" rx="0.800" fill="#f0a232"/>
  <path d="M679.500 380.200 L696 380.900 L696 382.800 L679.500 383.300 Z" fill="#f3f3f1"/>
  <path d="M679.500 382.300 L696 382.300 L696 382.900 L679.500 383.400 Z" fill="#cfd3d6"/>
  <ellipse cx="698" cy="381.800" rx="2.500" ry="2.100" fill="#b4473a"/>
</g>

<g id="clipboard">
  <rect x="547.300" y="312.300" width="40.100" height="55" rx="2.200" fill="#6b8187"/>
  <rect x="549.800" y="315.600" width="35.100" height="49" fill="#ffffff"/>
  <circle cx="566.800" cy="309.600" r="2.900" fill="none" stroke="#b3b7b8" stroke-width="1.500"/>
  <path d="M556.100 313 C556.100 311.800 557 311.200 558 311.200 L575.600 311.200 C576.600 311.200 577.500 311.800 577.500 313 L577.500 317.500 L556.100 317.500 Z" fill="#b7babb"/>
  <rect x="552.100" y="319.400" width="8" height="7.600" fill="#8aa1cb"/>
  <path d="M554 327 C554 324.500 555 323.500 556.100 323.500 C557.200 323.500 558.200 324.500 558.200 327 Z" fill="#fff"/>
  <circle cx="556.100" cy="322" r="1.400" fill="#fff"/>
  <rect x="561.400" y="319.400" width="20.300" height="7.600" fill="#b9c9e8"/>
  <rect x="552.500" y="329.100" width="29.200" height="1.300" fill="#8fa6d2"/>
  <g fill="#b9c9e6">
    <rect x="552.500" y="332.700" width="23.500" height="1.100"/>
    <rect x="552.500" y="335.400" width="23.500" height="1.100"/>
    <rect x="552.500" y="338.200" width="23.500" height="1.100"/>
    <rect x="552.500" y="341" width="23.500" height="1.100"/>
    <rect x="552.500" y="343.900" width="29.200" height="1.200"/>
    <rect x="552.500" y="346.700" width="29" height="6" fill="#b3c4e6"/>
    <rect x="553" y="356.300" width="7" height="1.300"/>
    <rect x="564" y="356.300" width="7" height="1.300"/>
    <rect x="553" y="359" width="18" height="1.300" fill="#9fb2da"/>
  </g>
  <rect x="578" y="332.300" width="3.500" height="4" fill="none" stroke="#d6dded" stroke-width="0.500"/>
  <rect x="578" y="338" width="3.500" height="4" fill="none" stroke="#d6dded" stroke-width="0.500"/>
  <path d="M578.200 355.600 L578.200 361.600 M575.200 358.600 L581.200 358.600" stroke="#d8343f" stroke-width="2"/>
</g>

<!-- ===== BLUE ARROWS ===== -->
<g id="arrows" stroke="#172f95" stroke-width="3.4" fill="none" stroke-linecap="butt">
  <path d="M396.700 160.700 C428 178 478 186 532.500 151"/>
  <path d="M650.400 98.700 C667 98.500 683 101 697 106.500"/>
  <path d="M783.900 174.200 C791 190 796 206 797.300 223"/>
  <path d="M791 324.800 C783 338 773 349 759.500 358"/>
  <path d="M655.200 396.100 C634 397 613 393 595 385.500"/>
  <path d="M536.300 307 C510 273.500 438 270 403 306"/>
</g>
<g fill="#172f95">
  <path d="M541.500 145 L528 147.500 L535 158.200 Z"/>
  <path d="M705.600 110 L694.500 100.800 L693 112 Z"/>
  <path d="M797.500 232.800 L791.800 222.200 L803.100 222.200 Z"/>
  <path d="M751 364 L756.300 352.800 L763 362.200 Z"/>
  <path d="M585.800 381.200 L597.500 381.300 L593.200 391 Z"/>
  <path d="M395.200 313.600 L399 302 L407.800 309.600 Z"/>
</g>

<!-- labels -->
<g font-size="16" fill="#121214" text-anchor="middle">
  <text x="602.800" y="58.200">Improving</text>
  <text x="602.800" y="76.200">diet</text>
  <text x="830.400" y="132.400">Exercising</text>
  <text x="830.400" y="150.800">guide</text>
  <text x="887.300" y="270.400">Psychological</text>
  <text x="887.300" y="288.500">care</text>
  <text x="709.700" y="431.500">Quitting</text>
  <text x="709.700" y="449.700">unhealthy</text>
  <text x="709.700" y="468">habits</text>
  <text x="567.500" y="409.500">Individual</text>
  <text x="567.500" y="427.800">report</text>
</g>

<!-- ===== TIMELINE BAR ===== -->
<path d="M0 495.5 L899 495.5 L899 483.5 L937 521 L899 558 L899 545.5 L0 545.5 Z" fill="url(#bar)"/>
<g font-size="19.500" fill="#131316">
  <text transform="translate(72.0 0) scale(1.050 1) translate(-72.0 0)" x="72.0" y="516.5">Cancer</text>
  <text transform="translate(72.0 0) scale(1.050 1) translate(-72.0 0)" x="72.0" y="539.8">Prevention</text>
  <text transform="translate(426.5 0) scale(1.050 1) translate(-426.5 0)" x="426.5" y="516.5">Cancer</text>
  <text transform="translate(426.5 0) scale(1.050 1) translate(-426.5 0)" x="426.5" y="539.8">Therapy</text>
  <text transform="translate(728.0 0) scale(1.050 1) translate(-728.0 0)" x="728.0" y="516.5">Cancer</text>
  <text transform="translate(728.0 0) scale(1.050 1) translate(-728.0 0)" x="728.0" y="539.8">Prognosis</text>
</g>

<!-- bottom labels -->
<g font-size="21.800" fill="#1f2226">
  <text transform="translate(116.4 0) scale(1.055 1) translate(-116.4 0)" x="116.4" y="744.0">Healthy</text>
  <text transform="translate(116.4 0) scale(1.055 1) translate(-116.4 0)" x="116.4" y="769.5">people</text>
  <text transform="translate(436.9 0) scale(1.055 1) translate(-436.9 0)" x="436.9" y="744.0">Cancer</text>
  <text transform="translate(436.9 0) scale(1.055 1) translate(-436.9 0)" x="436.9" y="769.9">patient</text>
</g>
<g font-size="21.800" fill="#111113">
  <text transform="translate(728.0 0) scale(1.055 1) translate(-728.0 0)" x="728.0" y="733.9">Cancer</text>
  <text transform="translate(728.0 0) scale(1.055 1) translate(-728.0 0)" x="728.0" y="760.6">survivors</text>
</g>


<!-- ===== BOTTOM FIGURES ===== -->
<defs>
  <g id="human"><path d="M159.2 573.1 C157.8 573.1 156.0 574.4 155.1 575.8 C154.2 577.1 153.8 579.5 153.7 581.2 C153.6 583.0 154.2 584.8 154.7 586.3 C155.2 587.7 156.4 588.9 156.7 589.9 C157.1 590.9 157.2 591.7 156.7 592.4 C156.3 593.0 155.3 593.6 153.9 594.0 C152.6 594.4 150.2 594.3 148.7 594.8 C147.1 595.3 145.8 595.8 144.8 596.8 C143.9 597.8 143.4 599.2 143.0 600.9 C142.6 602.5 142.7 604.8 142.2 606.9 C141.7 609.1 141.2 611.2 140.2 613.8 C139.2 616.4 137.7 619.9 136.1 622.7 C134.6 625.5 132.3 628.5 130.9 630.4 C129.4 632.3 128.3 632.8 127.6 634.0 C126.9 635.2 126.5 636.8 126.6 637.7 C126.7 638.6 127.7 639.4 128.4 639.5 C129.2 639.6 130.2 639.2 131.3 638.1 C132.3 637.0 133.4 634.9 134.9 632.8 C136.4 630.8 138.5 628.3 140.2 625.7 C141.8 623.2 143.4 620.2 144.6 617.6 C145.8 615.1 146.7 612.3 147.4 610.6 C148.2 608.8 148.7 606.7 149.1 607.3 C149.4 608.0 149.5 612.4 149.7 614.6 C149.8 616.8 150.0 618.3 149.9 620.7 C149.7 623.0 149.0 626.2 148.7 628.8 C148.4 631.3 148.1 632.8 148.1 635.8 C148.0 638.9 148.1 642.8 148.3 647.0 C148.4 651.2 148.6 656.4 148.9 661.1 C149.1 665.9 149.6 671.1 149.9 675.3 C150.2 679.5 151.0 683.9 150.7 686.4 C150.4 689.0 148.5 689.5 148.1 690.7 C147.6 691.8 147.4 692.8 148.3 693.3 C149.1 693.8 152.0 693.9 153.1 693.5 C154.2 693.1 154.5 692.2 154.7 691.1 C154.9 689.9 154.3 689.0 154.3 686.4 C154.4 683.8 154.8 679.5 155.1 675.3 C155.5 671.1 155.8 665.9 156.3 661.1 C156.8 656.4 157.7 650.3 158.2 647.0 C158.6 643.7 158.8 641.3 159.2 641.3 C159.5 641.3 159.7 643.7 160.2 647.0 C160.7 650.3 161.5 656.4 162.0 661.1 C162.5 665.9 162.9 671.1 163.2 675.3 C163.6 679.5 164.0 683.8 164.0 686.4 C164.1 689.0 163.4 689.9 163.6 691.1 C163.8 692.2 164.2 693.1 165.2 693.5 C166.3 693.9 169.3 693.8 170.1 693.3 C170.9 692.8 170.7 691.8 170.3 690.7 C169.9 689.5 168.0 689.0 167.7 686.4 C167.4 683.9 168.2 679.5 168.5 675.3 C168.8 671.1 169.2 665.9 169.5 661.1 C169.8 656.4 170.0 651.2 170.1 647.0 C170.2 642.8 170.4 638.9 170.3 635.8 C170.2 632.8 170.0 631.3 169.7 628.8 C169.4 626.2 168.6 623.0 168.5 620.7 C168.3 618.3 168.5 616.8 168.7 614.6 C168.8 612.4 168.9 608.0 169.3 607.3 C169.7 606.7 170.2 608.8 170.9 610.6 C171.6 612.3 172.5 615.1 173.7 617.6 C175.0 620.2 176.6 623.2 178.2 625.7 C179.8 628.3 182.0 630.8 183.4 632.8 C184.9 634.9 186.0 637.0 187.1 638.1 C188.2 639.2 189.1 639.6 189.9 639.5 C190.7 639.4 191.6 638.6 191.7 637.7 C191.9 636.8 191.4 635.2 190.7 634.0 C190.0 632.8 188.9 632.3 187.5 630.4 C186.1 628.5 183.8 625.5 182.2 622.7 C180.7 619.9 179.2 616.4 178.2 613.8 C177.2 611.2 176.6 609.1 176.2 606.9 C175.7 604.8 175.8 602.5 175.4 600.9 C174.9 599.2 174.5 597.8 173.5 596.8 C172.6 595.8 171.2 595.3 169.7 594.8 C168.2 594.3 165.8 594.4 164.4 594.0 C163.1 593.6 162.1 593.0 161.6 592.4 C161.1 591.7 161.3 590.9 161.6 589.9 C161.9 588.9 163.1 587.7 163.6 586.3 C164.1 584.8 164.7 583.0 164.6 581.2 C164.6 579.5 164.1 577.1 163.2 575.8 C162.3 574.4 160.5 573.1 159.2 573.1 Z"/></g>
</defs>
<use href="#human" fill="#f8ded5"/>
<use href="#human" fill="#d7a9b4" transform="translate(471.300 580.200) scale(1.020 1.008) translate(-159.200 -573.100)"/>

<!-- cancer cells -->
<g id="cells">
  <path d="M473.300 616 L495.800 575.500 M473.300 616 L515.500 618.300" stroke="#2b3036" stroke-width="1.300" stroke-dasharray="3 2.600" fill="none"/>
  <circle cx="524.200" cy="587.500" r="30.900" fill="#fcebe8" stroke="#3b4046" stroke-width="1.200"/>
  <circle cx="524" cy="588" r="23" fill="#f9d6d0" opacity="0.700"/>
  <g fill="#f4ab9f">
    <circle cx="523.600" cy="573.200" r="8.500"/>
    <circle cx="508.900" cy="597.900" r="8.500"/>
    <circle cx="536.800" cy="596" r="7.800"/>
    <circle cx="513.400" cy="585.100" r="11"/>
    <circle cx="534.500" cy="583.700" r="10.500"/>
    <circle cx="525" cy="601.700" r="10.800"/>
    <circle cx="524" cy="589" r="8" />
  </g>
  <g fill="#ec9d92">
    <circle cx="523.600" cy="573.200" r="3.600"/>
    <circle cx="508.900" cy="597.900" r="3.700"/>
    <circle cx="536.800" cy="596" r="3.200"/>
  </g>
  <g fill="#e46f5f">
    <circle cx="513.400" cy="585.100" r="4.200"/>
    <circle cx="534.500" cy="583.700" r="4.200"/>
    <circle cx="525" cy="601.700" r="4.400"/>
  </g>
</g>

<!-- survivor -->
<g id="survivor">
  <!-- IV pole -->
  <path d="M789.200 568 L789.200 687" stroke="#b4b9bd" stroke-width="1.600"/>
  <path d="M778.500 571 C778.500 568.500 781 568.300 782 569.300 L796 569.300 C797 568.300 799.800 568.500 799.800 571" stroke="#b4b9bd" stroke-width="1" fill="none"/>
  <circle cx="789.200" cy="568.300" r="1.500" fill="#4a6fc0"/>
  <path d="M774.800 681.500 L803.800 694 M803.800 681.500 L774.800 694" stroke="#a9afb4" stroke-width="2.300" stroke-linecap="round"/>
  <g fill="#7c8388"><circle cx="775" cy="695" r="1.600"/><circle cx="803.800" cy="695" r="1.600"/><circle cx="775.500" cy="682.500" r="1.300"/><circle cx="803.300" cy="682.500" r="1.300"/></g>
  <!-- bag -->
  <path d="M786 575 C786 573.500 787.500 573 789 573 L793 573 C795 573 796 573.500 796 575 L796 590.500 C796 592.500 794 593.500 791 593.500 C788 593.500 786 592.500 786 590.500 Z" fill="#bcdde6"/>
  <rect x="786" y="580" width="10" height="11.500" fill="#8fc5d6" opacity="0.850"/>
  <path d="M791 593.500 L791 599" stroke="#6c9fc0" stroke-width="1"/>
  <!-- head & legs -->
  <ellipse cx="766" cy="581.500" rx="6" ry="8.300" fill="#c3cbcb"/>
  <rect x="763" y="587" width="6.500" height="6" fill="#c3cbcb"/>
  <path d="M755.500 668 L757.500 688 C756 691 754 694 753.300 695.800 L759.300 696 L760.800 689 L762.500 668 Z" fill="#c8cfcf"/>
  <path d="M768 668 L769 684 C769 687 768 688.500 767.500 689.500 L775 690 L774.500 687 L773 684 L774.500 668 Z" fill="#c8cfcf"/>
  <!-- arm to pole -->
  <path d="M781 623 C784 625 788 623 790.300 620.500 L790.800 626 C788 628 784 628.500 780.500 627.500 Z" fill="#c8cfcf"/>
  <path d="M749 616 L750.500 633 L753.500 633 L753.500 616 Z" fill="#c8cfcf"/>
  <!-- gown -->
  <path d="M760 591.500 C762 594 770 594 772.500 591.500 C778 592.500 782.500 595.500 784.300 600.500 L784.800 615.500 L779.500 617.500 L779 632 C779.500 645 778.500 660 777.800 670.500 C772 672.500 760 672.500 752.500 670.500 C752 655 752.500 640 753.800 628 L754 619 L747.500 616.500 C747.500 610 748.500 603 750.500 599 C752.500 595 756 592.500 760 591.500 Z" fill="#a9d1d1"/>
  <path d="M768 600 C766 620 764 645 765.500 671 M756 630 C755.500 640 755 655 755 668 M775 630 C773.500 645 773 660 773.500 670" stroke="#8fc0c0" stroke-width="1.200" fill="none" opacity="0.700"/>
</g>

<!-- bottom arrows -->
<path d="M251 643.500 L377 642.800 L377 639.900 L384.400 643.900 L377 647.900 L377 645 L251 644.300 Z" fill="url(#fadeL)"/>
<path d="M530 641.500 L653 640.800 L653 637.900 L660.200 641.900 L653 645.900 L653 643 L530 642.300 Z" fill="url(#fadeL2)"/>

</svg>
</body>
</html>
